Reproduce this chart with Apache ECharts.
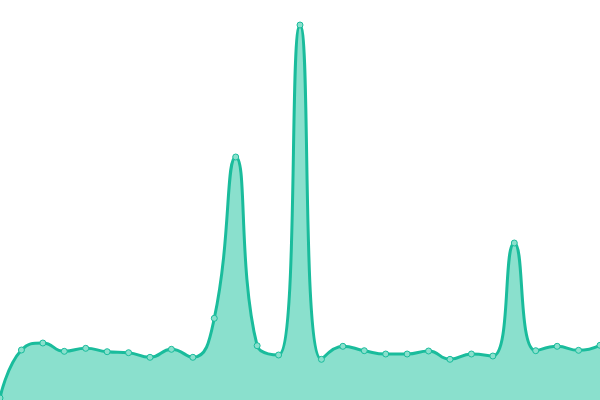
<!DOCTYPE html>
<html>
<head>
<meta charset="utf-8">
<script src="https://cdn.jsdelivr.net/npm/echarts@6/dist/echarts.min.js"></script>
<style>html,body{margin:0;padding:0;background:#fff;}#c{width:600px;height:400px;}</style>
</head>
<body>
<div id="c"></div>
<script>
var categories = ['1','2','3','4','5','6','7','8','9','10','11','12','13','14','15','16','17','18','19','20','21','22','23','24','25','26','27','28','29'];
var values = [2, 50, 57, 48.7, 51.7, 48.3, 47.3, 42.7, 50.7, 42.7, 81.7, 243, 54.3, 45, 375, 40.7, 53.7, 49.3, 46, 46, 49, 40.7, 46, 44, 157, 49.3, 53.7, 49.7, 54.7];
var chart = echarts.init(document.getElementById('c'));
chart.setOption({
  animation: false,
  grid: {left: 0, right: 0, top: 0, bottom: 0},
  xAxis: {type: 'category', data: categories, boundaryGap: false, show: false},
  yAxis: {type: 'value', min: 0, max: 400, show: false},
  series: [{
    type: 'line',
    data: values,
    smooth: true,
    symbol: 'circle',
    symbolSize: 6,
    itemStyle: {color: '#8ae0cd', borderColor: '#1abc9c', borderWidth: 1},
    lineStyle: {color: '#1abc9c', width: 3},
    areaStyle: {color: '#8ae0cd', opacity: 1}
  }]
});
</script>
</body>
</html>
